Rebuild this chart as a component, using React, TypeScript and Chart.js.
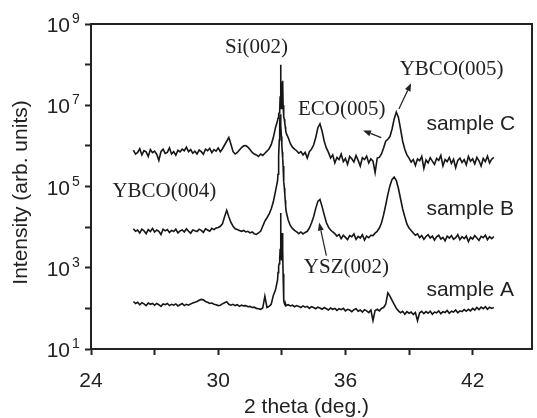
import { useEffect, useRef } from "react";
import { Chart, registerables } from "chart.js";

Chart.register(...registerables);

// 2 theta grid (deg.)
const twoTheta = [
  26, 26.1, 26.2, 26.3, 26.4, 26.5, 26.6, 26.7, 26.8, 26.9,
  27, 27.1, 27.2, 27.3, 27.4, 27.5, 27.6, 27.7, 27.8, 27.9,
  28, 28.1, 28.2, 28.3, 28.4, 28.5, 28.6, 28.7, 28.8, 28.9,
  29, 29.1, 29.2, 29.3, 29.4, 29.5, 29.6, 29.7, 29.8, 29.9,
  30, 30.1, 30.2, 30.3, 30.4, 30.5, 30.6, 30.7, 30.8, 30.9,
  31, 31.1, 31.2, 31.3, 31.4, 31.5, 31.6, 31.7, 31.8, 31.9,
  32, 32.1, 32.2, 32.3, 32.4, 32.5, 32.6, 32.7,
  32.8, 32.82, 32.84, 32.86, 32.88, 32.9, 32.92, 32.94, 32.96, 32.98,
  33, 33.02, 33.04, 33.06, 33.08, 33.1, 33.12, 33.14, 33.16, 33.18, 33.2,
  33.3, 33.4, 33.5, 33.6, 33.7, 33.8, 33.9,
  34, 34.1, 34.2, 34.3, 34.4, 34.5, 34.6, 34.7, 34.8, 34.9,
  35, 35.1, 35.2, 35.3, 35.4, 35.5, 35.6, 35.7, 35.8, 35.9,
  36, 36.1, 36.2, 36.3, 36.4, 36.5, 36.6, 36.7, 36.8, 36.9,
  37, 37.1, 37.2, 37.3, 37.4, 37.5, 37.6, 37.7, 37.8, 37.9,
  38, 38.1, 38.2, 38.3, 38.4, 38.5, 38.6, 38.7, 38.8, 38.9,
  39, 39.1, 39.2, 39.3, 39.4, 39.5, 39.6, 39.7, 39.8, 39.9,
  40, 40.1, 40.2, 40.3, 40.4, 40.5, 40.6, 40.7, 40.8, 40.9,
  41, 41.1, 41.2, 41.3, 41.4, 41.5, 41.6, 41.7, 41.8, 41.9,
  42, 42.1, 42.2, 42.3, 42.4, 42.5, 42.6, 42.7, 42.8, 42.9,
  43,
];

const sampleC = [
  7.9e5, 6.3e5, 6.9e5, 8.5e5, 6.0e5, 7.6e5, 7.1e5, 5.5e5, 8.1e5, 6.8e5,
  7.4e5, 6.2e5, 4.4e5, 7.2e5, 8.3e5, 6.5e5, 6.9e5, 8.9e5, 6.3e5, 7.2e5,
  5.9e5, 7.8e5, 7.1e5, 8.3e5, 7.6e5, 9.3e5, 7.2e5, 8.1e5, 6.6e5, 7.4e5,
  6.3e5, 7.9e5, 7.2e5, 6.2e5, 8.3e5, 7.6e5, 8.7e5, 6.8e5, 8.1e5, 7.4e5,
  8.9e5, 7.2e5, 8.5e5, 1.05e6, 1.3e6, 1.6e6, 1.1e6, 7.2e5, 6.3e5, 6.9e5,
  7.9e5, 9.1e5, 1.0e6, 1.02e6, 9.3e5, 8.1e5, 6.9e5, 6.3e5, 6.0e5, 5.5e5,
  6.3e5, 5.8e5, 6.6e5, 7.4e5, 8.5e5, 1.07e6, 1.6e6, 2.8e6,
  4.2e6, 4.8e6, 5.5e6, 6.0e6, 6.5e6, 6.9e6, 1.6e7, 1.0e8, 2.0e7, 8.3e6,
  1.0e7, 3.5e7, 4.0e7, 1.0e7, 6.3e6, 5.2e6, 4.5e6, 3.6e6, 3.0e6, 2.5e6, 2.1e6,
  1.6e6, 1.15e6, 9.3e5, 8.3e5, 7.6e5, 6.6e5, 7.2e5,
  6.0e5, 6.9e5, 5.0e5, 7.2e5, 8.3e5, 1.05e6, 1.6e6, 2.8e6, 3.5e6, 2.3e6,
  1.3e6, 8.9e5, 6.9e5, 5.0e5, 6.0e5, 3.8e5, 5.2e5, 4.6e5, 6.3e5, 4.1e5,
  4.9e5, 3.5e5, 5.5e5, 4.8e5, 4.0e5, 5.8e5, 4.4e5, 3.2e5, 5.1e5, 4.6e5,
  5.6e5, 3.8e5, 4.8e5, 4.2e5, 2.2e5, 5.0e5, 5.2e5, 6.3e5, 8.9e5, 1.3e6,
  1.45e6, 1.7e6, 2.6e6, 4.6e6, 6.8e6, 5.0e6, 2.6e6, 1.3e6, 8.3e5, 6.0e5,
  5.0e5, 4.0e5, 4.6e5, 3.3e5, 4.8e5, 4.3e5, 5.5e5, 2.8e5, 4.5e5, 3.8e5,
  5.1e5, 4.2e5, 3.5e5, 4.9e5, 4.4e5, 5.8e5, 3.2e5, 4.6e5, 4.1e5, 5.2e5,
  3.7e5, 4.7e5, 2.9e5, 4.4e5, 5.0e5, 3.9e5, 4.6e5, 3.4e5, 5.5e5, 4.2e5,
  4.8e5, 3.6e5, 5.2e5, 4.3e5, 3.2e5, 4.9e5, 4.1e5, 5.6e5, 3.8e5, 4.7e5,
  5.2e5,
];

const sampleB = [
  9.1e3, 7.9e3, 8.5e3, 7.2e3, 8.9e3, 8.1e3, 6.9e3, 8.7e3, 7.8e3, 9.3e3,
  7.6e3, 8.5e3, 7.9e3, 6.6e3, 8.9e3, 8.1e3, 8.7e3, 7.4e3, 8.3e3, 7.8e3,
  8.9e3, 7.2e3, 8.1e3, 8.5e3, 7.6e3, 9.1e3, 7.9e3, 7.1e3, 8.5e3, 8.1e3,
  7.8e3, 8.9e3, 8.3e3, 7.4e3, 9.1e3, 8.5e3, 7.9e3, 9.3e3, 8.7e3, 9.5e3,
  9.8e3, 1.05e4, 1.2e4, 1.8e4, 2.6e4, 1.8e4, 1.3e4, 1.05e4, 9.1e3, 8.7e3,
  8.3e3, 7.9e3, 8.3e3, 7.6e3, 7.9e3, 7.2e3, 7.6e3, 6.9e3, 6.6e3, 7.2e3,
  7.9e3, 1.05e4, 1.4e4, 1.7e4, 2.1e4, 2.8e4, 4.2e4, 7.6e4,
  1.4e5, 2.0e5, 3.0e5, 5.6e5, 1.4e6, 3.5e6, 6.0e6, 5.2e6, 3.2e6, 1.7e6,
  1.05e6, 7.2e5, 5.0e5, 3.2e5, 2.0e5, 1.3e5, 9.1e4, 6.6e4, 4.6e4, 3.3e4, 2.5e4,
  1.5e4, 1.1e4, 9.3e3, 8.3e3, 7.6e3, 6.9e3, 7.6e3,
  6.8e3, 7.4e3, 7.9e3, 9.5e3, 1.26e4, 1.8e4, 2.9e4, 4.3e4, 4.8e4, 3.2e4,
  2.0e4, 1.3e4, 1.0e4, 8.5e3, 7.6e3, 6.9e3, 6.0e3, 6.6e3, 5.2e3, 6.3e3,
  5.6e3, 4.9e3, 6.2e3, 5.8e3, 6.8e3, 5.0e3, 5.9e3, 5.4e3, 6.5e3, 4.8e3,
  6.0e3, 5.5e3, 6.3e3, 6.2e3, 7.1e3, 7.9e3, 9.5e3, 1.26e4, 2.0e4, 3.5e4,
  6.3e4, 1.05e5, 1.5e5, 1.7e5, 1.4e5, 8.9e4, 5.0e4, 2.8e4, 1.8e4, 1.2e4,
  9.5e3, 8.3e3, 7.2e3, 6.3e3, 6.8e3, 5.5e3, 6.2e3, 5.0e3, 5.9e3, 6.5e3,
  5.4e3, 6.0e3, 4.8e3, 5.8e3, 6.3e3, 5.1e3, 5.6e3, 4.6e3, 6.0e3, 5.4e3,
  6.2e3, 5.0e3, 5.5e3, 6.5e3, 4.9e3, 5.8e3, 5.2e3, 6.0e3, 4.4e3, 5.6e3,
  5.1e3, 6.2e3, 5.4e3, 4.7e3, 5.9e3, 5.5e3, 6.3e3, 4.9e3, 5.8e3, 5.2e3,
  5.9e3,
];

const sampleA = [
  148, 132, 141, 123, 138, 129, 117, 135, 126, 132,
  120, 132, 123, 112, 129, 123, 132, 117, 126, 120,
  129, 115, 123, 132, 117, 126, 120, 129, 135, 141,
  148, 158, 166, 162, 148, 141, 132, 135, 126, 123,
  117, 120, 129, 138, 145, 126, 120, 126, 117, 123,
  112, 120, 115, 117, 110, 112, 105, 107, 100, 98,
  95, 102, 200, 105, 112, 126, 209, 282,
  500, 760, 955, 1120, 1260, 1580, 2800, 22400, 3500, 1580,
  2000, 7200, 2800, 710, 280, 158, 132, 126, 120, 126, 117,
  123, 115, 120, 110, 117, 112, 105,
  115, 107, 112, 100, 110, 105, 98, 107, 102, 95,
  105, 98, 91, 102, 95, 100, 89, 98, 93, 100,
  87, 95, 91, 83, 93, 98, 85, 91, 81, 93,
  87, 79, 91, 50, 89, 95, 87, 100, 105, 126,
  240, 200, 158, 126, 100, 87, 78, 85, 72, 83,
  76, 81, 71, 79, 50, 78, 85, 74, 83, 76,
  85, 72, 81, 78, 87, 74, 83, 79, 89, 76,
  85, 81, 91, 78, 87, 83, 93, 85, 95, 87,
  100, 91, 105, 93, 107, 98, 110, 95, 107, 100,
  105,
];

const xTicks = [24, 27, 30, 33, 36, 39, 42];
const xTickLabels = ["24", "", "30", "", "36", "", "42"];
const yTicks = [1e1, 1e2, 1e3, 1e4, 1e5, 1e6, 1e7, 1e8, 1e9];
const yTickExponents = ["1", "", "3", "", "5", "", "7", "", "9"];

const xTitle = "2 theta (deg.)";
const yTitle = "Intensity (arb. units)";

// annotation texts, anchored at (2theta, intensity) of their left baseline
const peakLabels = [
  { text: "Si(002)", x: 30.32, y: 1.9e8 },
  { text: "ECO(005)", x: 33.76, y: 5.9e6 },
  { text: "YBCO(005)", x: 38.56, y: 5.4e7 },
  { text: "YBCO(004)", x: 25.01, y: 5.4e4 },
  { text: "YSZ(002)", x: 34.04, y: 7.6e2 },
];
const sampleLabels = [
  { text: "sample C", x: 39.82, y: 2.4e6 },
  { text: "sample B", x: 39.82, y: 2.0e4 },
  { text: "sample A", x: 39.82, y: 2.0e2 },
];
const arrows = [
  { x1: 37.69, y1: 1.6e6, x2: 36.83, y2: 2.4e6 },
  { x1: 38.52, y1: 8.1e6, x2: 39.1, y2: 3.5e7 },
  { x1: 35.1, y1: 2.0e3, x2: 34.76, y2: 1.3e4 },
];

const INK = "#222";

const decorPlugin = {
  id: "decor",
  afterDraw(chart: any) {
    const { ctx, chartArea } = chart;
    const xs = chart.scales.x;
    const ys = chart.scales.y;
    ctx.save();
    // frame top & right
    ctx.strokeStyle = INK;
    ctx.lineWidth = 2;
    ctx.beginPath();
    ctx.moveTo(chartArea.left, chartArea.top);
    ctx.lineTo(chartArea.right, chartArea.top);
    ctx.lineTo(chartArea.right, chartArea.bottom);
    ctx.stroke();

    ctx.fillStyle = INK;
    // x tick labels
    ctx.font = '21px "Liberation Sans", Arial, sans-serif';
    ctx.textAlign = "center";
    ctx.textBaseline = "alphabetic";
    xTicks.forEach((v, i) => {
      if (!xTickLabels[i]) return;
      ctx.fillText(xTickLabels[i], xs.getPixelForValue(v), chartArea.bottom + 38);
    });
    // y tick labels
    yTicks.forEach((v, i) => {
      const e = yTickExponents[i];
      if (!e) return;
      const py = ys.getPixelForValue(v);
      ctx.font = '21px "Liberation Sans", Arial, sans-serif';
      ctx.textAlign = "right";
      ctx.fillText("10", chartArea.left - 21, py + 8);
      ctx.font = '14px "Liberation Sans", Arial, sans-serif';
      ctx.textAlign = "left";
      ctx.fillText(e, chartArea.left - 19, py - 1);
    });
    // axis titles
    ctx.font = '21px "Liberation Sans", Arial, sans-serif';
    ctx.textAlign = "center";
    ctx.fillText(xTitle, (chartArea.left + chartArea.right) / 2 - 5, chartArea.bottom + 64);
    ctx.save();
    ctx.translate(21, (chartArea.top + chartArea.bottom) / 2 + 6);
    ctx.rotate(-Math.PI / 2);
    ctx.textBaseline = "middle";
    ctx.fillText(yTitle, 0, 0);
    ctx.restore();

    // peak labels
    ctx.textAlign = "left";
    ctx.textBaseline = "alphabetic";
    ctx.font = '21px "Liberation Serif", "Times New Roman", serif';
    peakLabels.forEach((l) => {
      ctx.fillText(l.text, xs.getPixelForValue(l.x), ys.getPixelForValue(l.y));
    });
    ctx.font = '21px "Liberation Sans", Arial, sans-serif';
    sampleLabels.forEach((l) => {
      ctx.fillText(l.text, xs.getPixelForValue(l.x), ys.getPixelForValue(l.y));
    });

    // arrows
    ctx.strokeStyle = INK;
    ctx.lineWidth = 1.2;
    arrows.forEach((a) => {
      const x1 = xs.getPixelForValue(a.x1);
      const y1 = ys.getPixelForValue(a.y1);
      const x2 = xs.getPixelForValue(a.x2);
      const y2 = ys.getPixelForValue(a.y2);
      const ang = Math.atan2(y2 - y1, x2 - x1);
      const hl = 8;
      const hw = 3;
      const bx = x2 - hl * Math.cos(ang);
      const by = y2 - hl * Math.sin(ang);
      ctx.beginPath();
      ctx.moveTo(x1, y1);
      ctx.lineTo(bx, by);
      ctx.stroke();
      ctx.beginPath();
      ctx.moveTo(x2, y2);
      ctx.lineTo(bx + hw * Math.sin(ang), by - hw * Math.cos(ang));
      ctx.lineTo(bx - hw * Math.sin(ang), by + hw * Math.cos(ang));
      ctx.closePath();
      ctx.fill();
    });
    ctx.restore();
  },
};

export default function App() {
  const ref = useRef<HTMLCanvasElement>(null);
  useEffect(() => {
    if (!ref.current) return;
    const mk = (vals: number[]) => twoTheta.map((x, i) => ({ x, y: vals[i] }));
    const lineStyle = {
      borderColor: "#161616",
      borderWidth: 1.6,
      pointRadius: 0,
      tension: 0,
      fill: false,
    };
    const axisCommon = {
      ticks: { display: false },
      grid: {
        drawOnChartArea: false,
        drawTicks: true,
        tickLength: 6,
        tickWidth: 2,
        tickColor: INK,
      },
      border: { display: true, width: 2, color: INK },
    };
    const chart = new Chart(ref.current, {
      type: "line",
      data: {
        datasets: [
          { label: "sample A", data: mk(sampleA), ...lineStyle },
          { label: "sample B", data: mk(sampleB), ...lineStyle },
          { label: "sample C", data: mk(sampleC), ...lineStyle },
        ],
      },
      options: {
        responsive: false,
        animation: false,
        layout: { padding: { left: 85, right: 5, top: 24, bottom: 63 } },
        plugins: { legend: { display: false }, tooltip: { enabled: false } },
        scales: {
          x: {
            type: "linear",
            min: 24,
            max: 44.8,
            afterBuildTicks: (s: any) => {
              s.ticks = xTicks.map((v) => ({ value: v }));
            },
            ...axisCommon,
          },
          y: {
            type: "logarithmic",
            min: 10,
            max: 1e9,
            afterBuildTicks: (s: any) => {
              s.ticks = yTicks.map((v) => ({ value: v }));
            },
            ...axisCommon,
          },
        },
      } as any,
      plugins: [decorPlugin],
    });
    return () => chart.destroy();
  }, []);
  return (
    <div style={{ position: "absolute", left: 0, top: 0, width: 537, height: 418, background: "#fff" }}>
      <canvas ref={ref} width={537} height={418} style={{ display: "block" }} />
    </div>
  );
}
